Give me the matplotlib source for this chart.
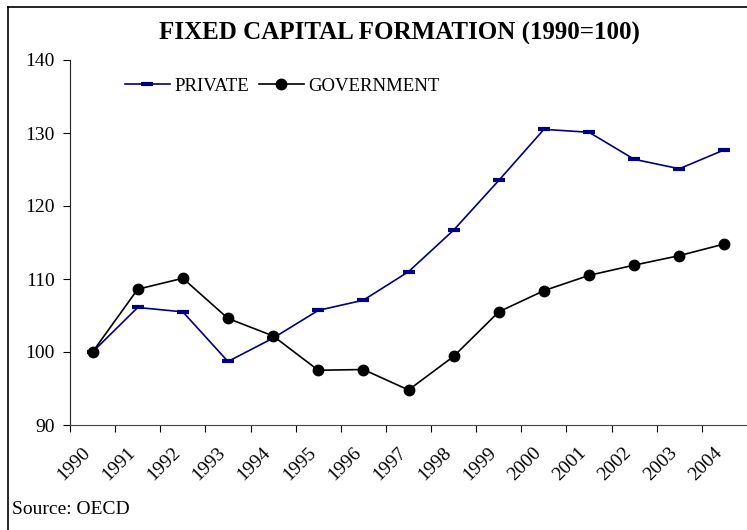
import matplotlib
matplotlib.use("Agg")
import matplotlib.pyplot as plt
from matplotlib.lines import Line2D
from matplotlib.transforms import ScaledTranslation

years = ["1990", "1991", "1992", "1993", "1994", "1995", "1996", "1997",
         "1998", "1999", "2000", "2001", "2002", "2003", "2004"]
private = [100.0, 106.1, 105.5, 98.7, 101.9, 105.7, 107.1, 111.0,
           116.7, 123.5, 130.5, 130.1, 126.4, 125.1, 127.7]
government = [100.0, 108.6, 110.1, 104.6, 102.2, 97.5, 97.6, 94.8,
              99.4, 105.5, 108.4, 110.5, 111.9, 113.2, 114.8]

plt.rcParams['font.family'] = ['Liberation Serif', 'DejaVu Serif']

fig = plt.figure(figsize=(7.47, 5.3), dpi=100)
ax = fig.add_axes([70 / 747, 105 / 530, 677 / 747, 365 / 530])

x = list(range(len(years)))
ax.plot(x, private, color='#000080', lw=1.2, marker='_', ms=9, mew=3,
        label='PRIVATE')
ax.plot(x, government, color='black', lw=1.2, marker='o', ms=7.5,
        label='GOVERNMENT')

ax.set_xlim(-0.5, len(years) - 0.5)
ax.set_ylim(90, 140)
ax.set_yticks([90, 100, 110, 120, 130, 140])
ax.tick_params(axis='y', labelsize=14, length=5, direction='out', pad=6)

# category boundaries carry the tick marks, centres carry the labels
ax.set_xticks([i - 0.5 for i in x])
ax.set_xticklabels([])
ax.set_xticks(x, minor=True)
ax.set_xticklabels(years, minor=True, rotation=45, ha='right',
                   rotation_mode='anchor', fontsize=14)
ax.tick_params(axis='x', which='major', length=5, direction='out')
ax.tick_params(axis='x', which='minor', length=0, pad=14)
# nudge the slanted year labels left, as in the reference
shift = ScaledTranslation(-11 / 100, 0, fig.dpi_scale_trans)
for lab in ax.get_xticklabels(minor=True):
    lab.set_transform(lab.get_transform() + shift)

for s in ['top', 'right']:
    ax.spines[s].set_visible(False)
ax.spines['bottom'].set_color('#444444')
ax.spines['left'].set_color('#222222')

ax.legend(loc='upper left', bbox_to_anchor=(0.07, 0.972), ncol=2, frameon=False,
          fontsize=13.5, handlelength=2.4, handletextpad=0.25, columnspacing=0.5,
          borderaxespad=0)

fig.text(399 / 747, 1 - 33 / 530, 'FIXED CAPITAL FORMATION (1990=100)',
         ha='center', va='center', fontsize=18, fontweight='bold')
fig.text(12 / 747, 1 - 510 / 530, 'Source: OECD', ha='left', va='center',
         fontsize=14)

# outer frame (only top and left edges are visible in the reference)
fig.add_artist(Line2D([8 / 747, 1.0], [1 - 7 / 530, 1 - 7 / 530],
                      transform=fig.transFigure, color='black', lw=1.2))
fig.add_artist(Line2D([8 / 747, 8 / 747], [0.0, 1 - 7 / 530],
                      transform=fig.transFigure, color='black', lw=1.2))

fig.savefig('out.png', dpi=100)
